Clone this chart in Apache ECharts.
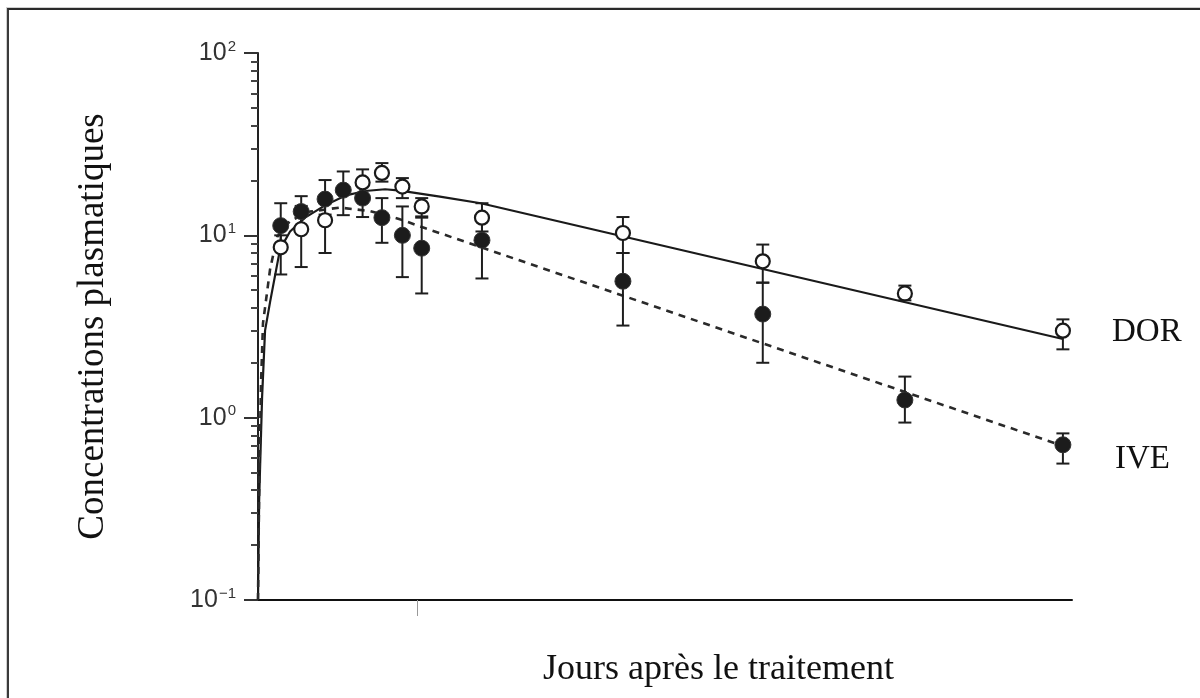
<!DOCTYPE html>
<html>
<head>
<meta charset="utf-8">
<script src="https://cdn.jsdelivr.net/npm/echarts@6/dist/echarts.min.js"></script>
<style>
html,body{margin:0;padding:0;background:#fff;}
#chart{width:1200px;height:698px;position:absolute;left:0;top:0;}
#frame{position:absolute;left:7px;top:8px;width:1193px;height:690px;border-top:2px solid #2a2a2a;border-left:2px solid #3a3a3a;pointer-events:none;box-shadow:-1px -1px 0 #cfcfcf;}
</style>
</head>
<body>
<div id="chart"></div>
<div id="frame"></div>
<script>
// ---- data (x in days, y in concentration, log scale) ----
const iveDays  = [1, 1.9, 2.95, 3.75, 4.6, 5.45, 6.35, 7.2, 9.85, 16.05, 22.2, 28.45, 35.4];
const iveMean  = [11.3, 13.5, 15.8, 17.7, 16.0, 12.5, 10.0, 8.5, 9.4, 5.6, 3.7, 1.25, 0.71];
const iveLow   = [8.5, 11.0, 13.0, 12.9, 12.6, 9.1, 5.9, 4.8, 5.8, 3.2, 2.0, 0.94, 0.56];
const iveHigh  = [15.0, 16.4, 20.1, 22.4, 19.0, 16.0, 14.4, 12.5, 12.5, 8.0, 5.5, 1.68, 0.82];

const dorDays  = [1, 1.9, 2.95, 4.6, 5.45, 6.35, 7.2, 9.85, 16.05, 22.2, 28.45, 35.4];
const dorMean  = [8.6, 10.8, 12.1, 19.5, 22.0, 18.5, 14.4, 12.5, 10.3, 7.2, 4.8, 3.0];
const dorLow   = [6.1, 6.7, 8.0, 16.5, 19.7, 16.0, 12.7, 10.5, 8.0, 5.5, 4.4, 2.37];
const dorHigh  = [10.0, 14.5, 15.0, 23.0, 24.9, 20.6, 16.0, 15.0, 12.6, 8.9, 5.3, 3.46];

// fitted curves
const dorCurveDays = [0, 0.05, 0.18, 0.31, 0.53, 0.97, 1.41, 2.07, 2.95, 3.83, 4.71, 5.59, 6.25, 8.0, 9.8, 35.4];
const dorCurveVals = [0.1, 0.35, 1.3, 3.0, 4.3, 8.4, 10.5, 12.5, 14.6, 16.5, 17.5, 17.9, 17.6, 16.3, 15.0, 2.7];
const iveCurveDays = [0, 0.05, 0.13, 0.22, 0.53, 0.84, 1.41, 2.29, 3.6, 4.9, 6.2, 7.4, 35.4];
const iveCurveVals = [0.1, 0.4, 1.5, 3.3, 6.5, 9.8, 12.0, 13.5, 14.2, 13.6, 12.3, 10.9, 0.70];

// axis ticks
const yMajorTicks = [0.1, 1, 10, 100];
const yMinorTicks = [0.2,0.3,0.4,0.5,0.6,0.7,0.8,0.9, 2,3,4,5,6,7,8,9, 20,30,40,50,60,70,80,90];
const xTicks = [7];

const zip = (a, b) => a.map((v, i) => [v, b[i]]);
const zip3 = (a, b, c) => a.map((v, i) => [v, b[i], c[i]]);

const chart = echarts.init(document.getElementById('chart'));

function errRender(params, api) {
  const x = api.value(0), lo = api.value(1), hi = api.value(2);
  const pLo = api.coord([x, lo]);
  const pHi = api.coord([x, hi]);
  const w = 6.5;
  const st = {stroke: '#1e1e1e', lineWidth: 2};
  return {type: 'group', children: [
    {type: 'line', shape: {x1: pLo[0], y1: pLo[1], x2: pHi[0], y2: pHi[1]}, style: st},
    {type: 'line', shape: {x1: pHi[0] - w, y1: pHi[1], x2: pHi[0] + w, y2: pHi[1]}, style: st},
    {type: 'line', shape: {x1: pLo[0] - w, y1: pLo[1], x2: pLo[0] + w, y2: pLo[1]}, style: st}
  ]};
}

const supMap = {'-1': '−1', '0': '0', '1': '1', '2': '2'};

chart.setOption({
  animation: false,
  backgroundColor: '#fff',
  grid: {left: 258, top: 53, width: 814, height: 547, containLabel: false},
  xAxis: {
    type: 'value', min: 0, max: 35.8,
    axisLine: {show: true, onZero: false, lineStyle: {color: '#111', width: 2}},
    axisTick: {show: true, customValues: xTicks, length: 16, lineStyle: {color: '#999', width: 1}},
    axisLabel: {show: false},
    splitLine: {show: false}
  },
  yAxis: [{
    type: 'log', logBase: 10, min: 0.1, max: 100,
    name: 'Concentrations plasmatiques',
    nameLocation: 'middle', nameGap: 146, nameRotate: 90,
    nameTextStyle: {fontFamily: 'Liberation Serif', fontSize: 37, color: '#111'},
    axisLine: {show: true, lineStyle: {color: '#222', width: 2}},
    axisTick: {show: true, customValues: yMajorTicks, length: 14, lineStyle: {color: '#333', width: 2}},
    axisLabel: {
      show: true, customValues: yMajorTicks, margin: 22,
      formatter: v => '{b|10}{s|' + supMap[String(Math.round(Math.log10(v)))] + '}',
      rich: {
        b: {fontFamily: 'Liberation Sans', fontSize: 25, color: '#333', lineHeight: 28},
        s: {fontFamily: 'Liberation Sans', fontSize: 15, color: '#333', lineHeight: 28, verticalAlign: 'top', padding: [0, 0, 0, 1]}
      }
    },
    splitLine: {show: false},
    minorTick: {show: false}
  }, {
    type: 'log', logBase: 10, min: 0.1, max: 100, position: 'left',
    axisLine: {show: false},
    axisTick: {show: true, customValues: yMinorTicks, length: 7, lineStyle: {color: '#444', width: 2}},
    axisLabel: {show: false},
    splitLine: {show: false}
  }],
  series: [
    {type: 'line', name: 'DOR fit', data: zip(dorCurveDays, dorCurveVals), showSymbol: false, symbol: 'none',
     lineStyle: {color: '#1a1a1a', width: 2.2, type: 'solid'}, z: 1},
    {type: 'line', name: 'IVE fit', data: zip(iveCurveDays, iveCurveVals), showSymbol: false, symbol: 'none',
     lineStyle: {color: '#2a2a2a', width: 2.6, type: [7, 6]}, z: 1},
    {type: 'custom', name: 'IVE err', renderItem: errRender, data: zip3(iveDays, iveLow, iveHigh), z: 2},
    {type: 'custom', name: 'DOR err', renderItem: errRender, data: zip3(dorDays, dorLow, dorHigh), z: 2},
    {type: 'scatter', name: 'IVE', data: zip(iveDays, iveMean), symbol: 'circle', symbolSize: 16,
     itemStyle: {color: '#1c1c1c', borderColor: '#333', borderWidth: 1, opacity: 1}, z: 3},
    {type: 'scatter', name: 'DOR', data: zip(dorDays, dorMean), symbol: 'circle', symbolSize: 14,
     itemStyle: {color: '#fff', borderColor: '#1a1a1a', borderWidth: 2.2, opacity: 1}, z: 4}
  ],
  graphic: [
    {type: 'text', left: 1112, top: 316, style: {text: 'DOR', font: '33px "Liberation Serif"', fill: '#111'}},
    {type: 'text', left: 1115, top: 443, style: {text: 'IVE', font: '33px "Liberation Serif"', fill: '#111'}},
    {type: 'text', left: 543, top: 652, style: {text: 'Jours après le traitement', font: '36px "Liberation Serif"', fill: '#111'}}
  ]
});
</script>
</body>
</html>
